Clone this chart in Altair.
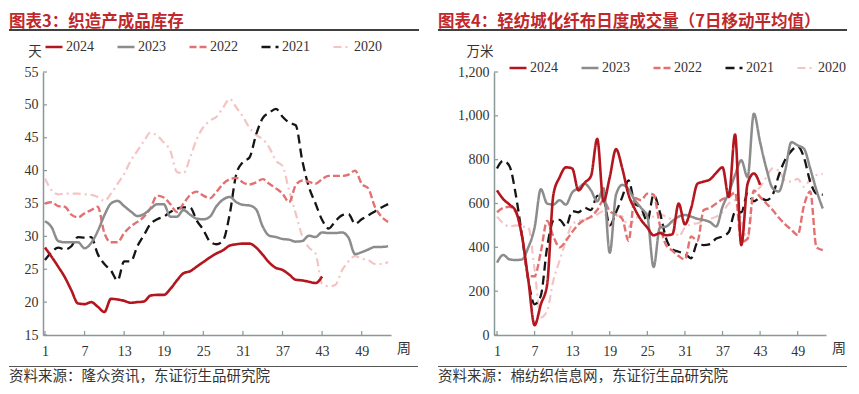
import altair as alt
import pandas as pd

YEARS = ["2024", "2023", "2022", "2021", "2020"]
COLORS = ["#B3161E", "#8C8C8C", "#E27272", "#151515", "#F4C4C4"]
DASHES = [[1, 0], [1, 0], [7, 3], [9, 5], [8, 4, 2, 4]]
WIDTHS = [2.6, 2.2, 2.2, 2.2, 2.2]
X_TICKS = [1, 7, 13, 19, 25, 31, 37, 43, 49]

# ---- 图表3: 织造产成品库存 (天) ----
INV_TICKS = [15, 20, 25, 30, 35, 40, 45, 50, 55]
INV_2024 = [28.3, 26.9, 25.4, 23.8, 21.8, 19.8, 19.7, 20.0, 19.3, 18.5, 20.5, 20.4, 20.2, 19.9,
            20.0, 20.1, 21.0, 21.1, 21.1, 22.0, 23.3, 24.4, 24.7, 25.4, 26.1, 26.8, 27.4, 27.9,
            28.6, 28.8, 28.9, 28.9, 28.3, 27.2, 26.0, 25.2, 24.9, 24.2, 23.4, 23.3, 23.1, 22.9, 23.9]
INV_2023 = [32.3, 31.4, 29.3, 29.1, 29.1, 29.1, 28.2, 29.0, 30.8, 33.2, 35.0, 35.4, 34.6, 33.8,
            33.1, 33.4, 34.2, 34.9, 34.9, 33.0, 33.0, 34.0, 33.3, 32.7, 32.6, 33.0, 34.6, 35.6,
            36.0, 35.2, 34.8, 34.7, 34.1, 31.5, 30.1, 29.9, 29.6, 29.5, 29.2, 29.3, 30.1, 29.9,
            30.6, 30.5, 30.5, 30.6, 29.8, 27.3, 27.6, 28.0, 28.4, 28.4, 28.5]
INV_2022 = [35.0, 35.2, 34.6, 34.5, 33.3, 32.9, 33.5, 34.0, 34.5, 30.5, 29.1, 29.1, 30.5, 31.5,
            32.2, 33.0, 34.3, 36.2, 35.9, 34.9, 33.7, 35.0, 36.3, 36.8, 36.2, 35.8, 36.8, 38.0,
            38.7, 38.9, 38.2, 37.9, 38.2, 38.7, 38.0, 37.3, 36.5, 35.2, 37.8, 38.5, 38.3, 38.0,
            38.7, 39.2, 39.2, 39.2, 39.4, 40.0, 38.0, 37.3, 34.5, 33.0, 32.2]
INV_2021 = [26.4, 27.6, 28.3, 28.0, 28.5, 29.9, 29.8, 29.9, 27.3, 25.8, 24.8, 23.3, 26.2, 26.2,
            28.5, 30.2, 31.9, 32.6, 33.0, 33.7, 34.2, 34.4, 34.4, 32.4, 31.0, 29.2, 28.8, 29.4,
            33.4, 39.5, 41.3, 42.0, 45.5, 48.0, 48.8, 49.4, 48.2, 47.3, 46.9, 41.5, 37.5, 35.0,
            32.5, 31.2, 32.3, 33.2, 33.4, 31.9, 32.6, 33.2, 33.8, 34.4, 34.9]
INV_2020 = [38.8, 37.0, 36.4, 36.5, 36.5, 36.5, 36.4, 36.3, 36.0, 35.4, 36.5, 38.0, 39.5, 41.5,
            43.0, 44.5, 45.8, 45.3, 44.3, 43.0, 39.8, 39.6, 42.0, 44.8, 46.6, 47.6, 48.2, 49.6,
            50.9, 49.6, 48.2, 46.5, 45.4, 44.8, 43.5, 41.5, 40.7, 37.0, 33.5, 30.0, 28.3, 27.4,
            22.8, 22.4, 22.6, 24.8, 26.2, 27.0, 26.6, 26.4, 25.8, 25.8, 26.1]

# ---- 图表4: 轻纺城化纤布日度成交量 (万米) ----
VOL_TICKS = [0, 200, 400, 600, 800, 1000, 1200]
VOL_2024 = [660, 620, 595, 565, 450, 250, 45, 140, 230, 640, 720, 765, 760, 660, 695, 725, 895,
            610, 720, 848, 760, 640, 575, 525, 490, 455, 465, 455, 460, 600, 505, 580, 690, 700,
            710, 740, 765, 630, 915, 410, 690, 737, 685]
VOL_2023 = [330, 365, 345, 342, 345, 400, 490, 665, 600, 595, 615, 595, 650, 670, 690, 660, 610,
            670, 375, 640, 685, 665, 615, 580, 540, 310, 490, 495, 520, 540, 548, 540, 530, 525,
            515, 495, 585, 650, 730, 797, 720, 1010, 880, 760, 670, 655, 750, 880, 865, 850, 760,
            660, 577]
VOL_2022 = [560, 580, 585, 560, 450, 270, 268, 380, 520, 450, 400, 430, 470, 505, 525, 540, 570,
            615, 565, 550, 530, 430, 625, 615, 645, 640, 500, 410, 385, 360, 345, 450, 430, 570,
            580, 600, 620, 630, 650, 425, 440, 660, 630, 600, 570, 535, 505, 480, 456, 590, 655,
            400, 387]
VOL_2021 = [760, 795, 770, 640, 450, 250, 140, 180, 400, 520, 525, 495, 565, 560, 580, 570, 635,
            620, 500, 560, 630, 705, 600, 580, 520, 640, 560, 440, 390, 380, 370, 350, 420, 410,
            415, 440, 450, 470, 560, 560, 645, 610, 625, 615, 640, 730, 800, 840, 860, 810, 700,
            645, 640]
VOL_2020 = [540, 510, 495, 500, 495, 490, 300, 80, 110, 250, 340, 430, 505, 520, 525, 535, 550,
            565, 500, 545, 540, 495, 530, 545, 555, 540, 550, 540, 520, 450, 490, 505, 510, 520,
            530, 540, 560, 600, 615, 520, 435, 645, 675, 720, 760, 750, 705, 700, 712, 676, 710,
            730, 735]

AXIS_COLOR = "#8A9898"
FONT_NUM = "Liberation Serif"
FONT_CJK = "Noto Sans CJK SC"
H = 263


def long_table(series):
    rows = []
    for yr in reversed(YEARS):
        for i, v in enumerate(series[yr]):
            rows.append({"week": i + 1, "value": v, "year": yr})
    return pd.DataFrame(rows)


def one():
    return pd.DataFrame({"a": [0]})


def txt(text, xv, yv, **kw):
    return alt.Chart(pd.DataFrame({"t": [text]})).mark_text(**kw).encode(
        x=alt.value(xv), y=alt.value(yv), text="t:N")


def hrule(x1, x2, yv, color, w, opacity=1.0):
    return alt.Chart(one()).mark_rule(color=color, strokeWidth=w, opacity=opacity).encode(
        x=alt.value(x1), x2=alt.value(x2), y=alt.value(yv))


def panel(series, yticks, xdom, ydom, yfmt, width, legx, legy, colpad, title, unit, unit_x,
          source, left_edge, right_edge, foot_right):
    df = long_table(series)
    xax = alt.Axis(values=X_TICKS, title=None, grid=False, ticks=False, tickSize=0,
                   labelPadding=9, labelFont=FONT_NUM, labelFontSize=14, labelColor="#333333",
                   domainColor=AXIS_COLOR, domainWidth=1.5, labelFlush=False)
    yax = alt.Axis(values=yticks, format=yfmt, title=None, grid=False, ticks=False, tickSize=0,
                   labelPadding=5, labelFont=FONT_NUM, labelFontSize=14, labelColor="#333333",
                   domainColor=AXIS_COLOR, domainWidth=1.5, labelFlush=False)
    leg = alt.Legend(title=None, orient="none", legendX=legx, legendY=legy,
                     direction="horizontal", symbolType="stroke", symbolSize=289,
                     symbolStrokeWidth=2.2, labelFont=FONT_NUM, labelFontSize=14,
                     labelColor="#333333", labelOffset=2, columnPadding=colpad, padding=0,
                     gridAlign="all")
    xs = alt.Scale(domain=xdom, nice=False, zero=False)
    ys = alt.Scale(domain=ydom, nice=False, zero=False)
    lines = alt.Chart(df).mark_line(interpolate="monotone").encode(
        x=alt.X("week:Q", scale=xs, axis=xax),
        y=alt.Y("value:Q", scale=ys, axis=yax),
        color=alt.Color("year:N", scale=alt.Scale(domain=YEARS, range=COLORS), legend=leg),
        strokeDash=alt.StrokeDash("year:N", scale=alt.Scale(domain=YEARS, range=DASHES), legend=leg),
        strokeWidth=alt.StrokeWidth("year:N", scale=alt.Scale(domain=YEARS, range=WIDTHS), legend=None),
    )
    xt = alt.Chart(pd.DataFrame({"week": X_TICKS})).mark_rule(
        color=AXIS_COLOR, strokeWidth=1.2).encode(
        x=alt.X("week:Q", scale=xs, axis=xax), y=alt.value(H), y2=alt.value(H - 4))
    yt = alt.Chart(pd.DataFrame({"value": yticks})).mark_rule(
        color=AXIS_COLOR, strokeWidth=1.2).encode(
        y=alt.Y("value:Q", scale=ys, axis=yax), x=alt.value(0), x2=alt.value(4))
    layers = [
        lines, xt, yt,
        hrule(left_edge, left_edge + 1, -64, "#ffffff", 1, 0.0),
        txt(title, left_edge, -45.5, align="left", baseline="alphabetic", font=FONT_CJK,
            fontSize=16.5, fontWeight="bold", color="#C0282B"),
        hrule(left_edge, right_edge, -42, "#000000", 1.6),
        txt(unit, unit_x, -20, align="center", baseline="middle", font=FONT_CJK,
            fontSize=13.5, color="#333333"),
        txt("周", width + 13, 277, align="center", baseline="middle", font=FONT_CJK,
            fontSize=14, color="#333333"),
        hrule(left_edge, foot_right, 294.5, "#555555", 1.2),
        txt(source, left_edge, 305, align="left", baseline="middle", font=FONT_CJK,
            fontSize=14.5, color="#333333"),
    ]
    return alt.layer(*layers).properties(width=width, height=H)


left = panel({"2024": INV_2024, "2023": INV_2023, "2022": INV_2022, "2021": INV_2021,
              "2020": INV_2020},
             INV_TICKS, [0.7, 53.44], [15, 55], "d", 348, 1, -35, 18, "图表3：织造产成品库存",
             "天", -8, "资料来源：隆众资讯，东证衍生品研究院", -34, 376, 375)
right = panel({"2024": VOL_2024, "2023": VOL_2023, "2022": VOL_2022, "2021": VOL_2021,
               "2020": VOL_2020},
              VOL_TICKS, [0.52, 53.52], [0, 1200], ",d", 332, 14, -14, 18,
              "图表4：轻纺城化纤布日度成交量（7日移动平均值）",
              "万米", -14, "资料来源：棉纺织信息网，东证衍生品研究院", -56, 353, 353)

chart = alt.hconcat(left, right, spacing=103, bounds="flush").resolve_scale(
    x="independent", y="independent", color="independent", strokeDash="independent",
    strokeWidth="independent").resolve_legend(
    color="independent", strokeDash="independent").configure_view(
    strokeWidth=0).properties(padding=0, background="#ffffff")

chart.save("out.html", embed_options={"renderer": "svg", "actions": False})
